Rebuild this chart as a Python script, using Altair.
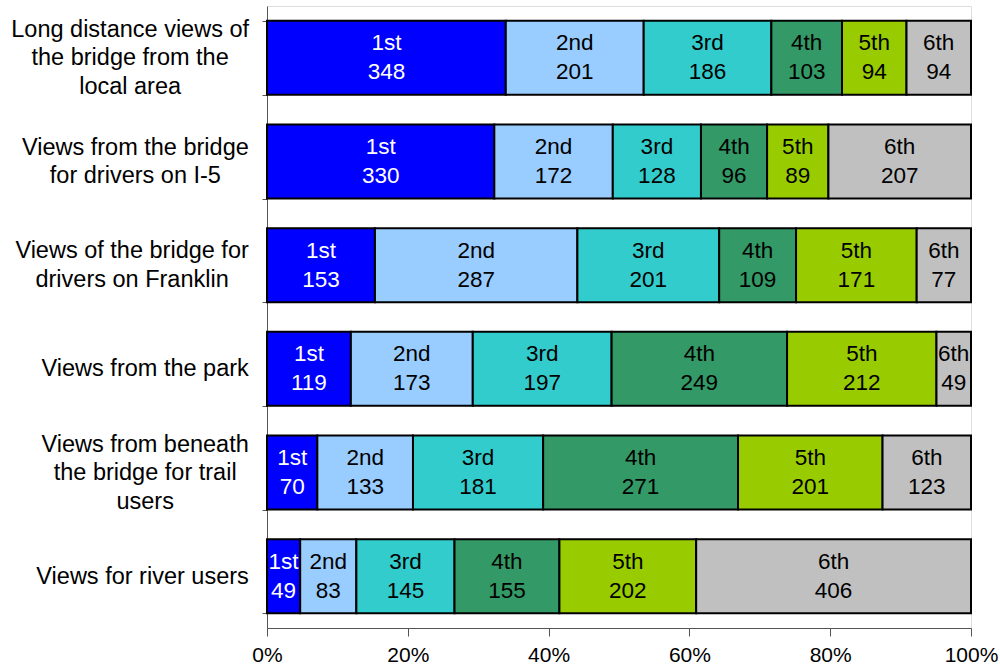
import altair as alt
import pandas as pd

categories = [
    "Long distance views of|the bridge from the|local area",
    "Views from the bridge|for drivers on I-5",
    "Views of the bridge for|drivers on Franklin",
    "Views from the park",
    "Views from beneath|the bridge for trail|users",
    "Views for river users",
]
ranks = ["1st", "2nd", "3rd", "4th", "5th", "6th"]
values = [
    [348, 201, 186, 103, 94, 94],
    [330, 172, 128, 96, 89, 207],
    [153, 287, 201, 109, 171, 77],
    [119, 173, 197, 249, 212, 49],
    [70, 133, 181, 271, 201, 123],
    [49, 83, 145, 155, 202, 406],
]
colors = ["#0000FF", "#99CCFF", "#33CCCC", "#339966", "#99CC00", "#C0C0C0"]
text_colors = ["white", "black", "black", "black", "black", "black"]

FONT = "Liberation Sans"
LABEL_SIZE = 23.5
LINE_H = 28.5
TICK = 5
GAP = 13.5  # gap between right edge of the label block and axis tick end

# Arial / Helvetica advance widths (per 1000 em) for estimating label widths
AW = {" ": 278, "a": 556, "b": 556, "c": 500, "d": 556, "e": 556, "f": 278, "g": 556,
      "h": 556, "i": 222, "k": 500, "l": 222, "m": 833, "n": 556, "o": 556, "p": 556,
      "r": 333, "s": 500, "t": 278, "u": 556, "v": 500, "w": 722, "y": 500, "L": 556,
      "V": 667, "I": 278, "F": 611, "-": 333, "5": 556}


def text_w(s):
    return sum(AW.get(ch, 556) for ch in s) / 1000 * LABEL_SIZE


pad_cond = []
off_cond = []
for c in categories:
    lines = c.split("|")
    w = max(text_w(l) for l in lines)
    pad_cond.append({"test": f"datum.value == '{c}'", "value": GAP + w / 2})
    off_cond.append({"test": f"datum.value == '{c}'", "value": -(len(lines) - 1) * LINE_H / 2})

rows = []
for c, vals in zip(categories, values):
    for i, (r, v) in enumerate(zip(ranks, vals)):
        rows.append({"cat": c, "rank": r, "order": i, "n": v, "tc": text_colors[i]})
df = pd.DataFrame(rows)

base = alt.Chart(df).transform_joinaggregate(
    total="sum(n)", groupby=["cat"]
).transform_calculate(
    pct="datum.n / datum.total"
).transform_stack(
    stack="pct", groupby=["cat"], as_=["x0", "x1"], sort=[alt.SortField("order")]
).transform_calculate(
    mid="(datum.x0 + datum.x1) / 2"
)

yenc = alt.Y(
    "cat:N", sort=categories, title=None,
    scale=alt.Scale(paddingInner=0.286, paddingOuter=0.143),
    axis=alt.Axis(
        labelExpr="split(datum.label, '|')", labelFont=FONT, labelFontSize=LABEL_SIZE,
        labelColor="black", labelAlign="center",
        labelPadding={"condition": pad_cond, "value": 100},
        labelOffset={"condition": off_cond, "value": 0},
        labelLineHeight=LINE_H, labelBaseline="middle", tickBand="extent",
        tickColor="#555", domainColor="#555", tickSize=TICK, labelLimit=400,
    ),
)

bars = base.mark_bar(stroke="black", strokeWidth=2).encode(
    x=alt.X("x0:Q", scale=alt.Scale(domain=[0, 1], nice=False),
            axis=alt.Axis(format="%", values=[0, 0.2, 0.4, 0.6, 0.8, 1.0],
                          labelFont=FONT, labelFontSize=21, labelColor="black",
                          grid=False, tickSize=8, labelPadding=8, labelFlush=False,
                          domainColor="#555", tickColor="#555"),
            title=None),
    x2="x1:Q",
    y=yenc,
    color=alt.Color("rank:N", scale=alt.Scale(domain=ranks, range=colors), legend=None),
)

t1 = base.mark_text(font=FONT, fontSize=22.5, dy=-14.5, baseline="middle").encode(
    x="mid:Q", y=alt.Y("cat:N", sort=categories),
    text="rank:N", color=alt.Color("tc:N", scale=None),
)
t2 = base.mark_text(font=FONT, fontSize=22.5, dy=14.5, baseline="middle").encode(
    x="mid:Q", y=alt.Y("cat:N", sort=categories),
    text="n:Q", color=alt.Color("tc:N", scale=None),
)

chart = alt.layer(bars, t1, t2).properties(
    width=704, height=622,
    autosize=alt.AutoSizeParams(type="none"),
    padding={"left": 267, "top": 6, "right": 29, "bottom": 42},
).configure_view(stroke=None).configure(background="white")

chart.save("out.html", embed_options={"renderer": "svg", "actions": False})
